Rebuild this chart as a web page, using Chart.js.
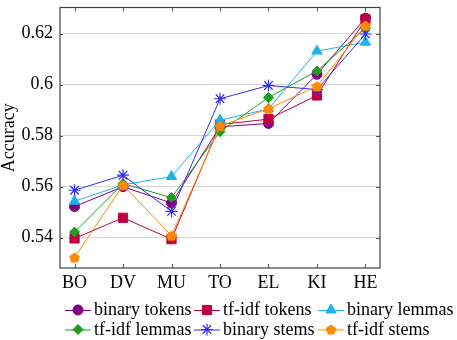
<!DOCTYPE html>
<html><head><meta charset="utf-8">
<script src="https://cdn.jsdelivr.net/npm/chart.js@4/dist/chart.umd.min.js"></script>
<style>html,body{margin:0;padding:0;background:#fff}#wrap{width:457px;height:340px;position:relative}
#probe{position:absolute;left:-1000px;top:0;font:18px 'Liberation Serif'}</style>
</head><body><div id="probe">binary tokens 0.62</div><div id="wrap"><canvas id="c" width="457" height="340"></canvas></div>
<script>
const categories = ['BO','DV','MU','TO','EL','KI','HE'];
const seriesNames = ['binary tokens','tf-idf tokens','binary lemmas','tf-idf lemmas','binary stems','tf-idf stems'];
const binaryTokens = [0.5522,0.5600,0.5536,0.5835,0.5848,0.6041,0.6261];
const tfidfTokens  = [0.5397,0.5478,0.5394,0.5844,0.5865,0.5958,0.6257];
const binaryLemmas = [0.5543,0.5607,0.5640,0.5861,0.5905,0.6132,0.6167];
const tfidfLemmas  = [0.5422,0.5612,0.5557,0.5816,0.5950,0.6054,0.6222];
const binaryStems  = [0.5586,0.5645,0.5503,0.5945,0.5997,0.5981,0.6199];
const tfidfStems   = [0.5322,0.5606,0.5408,0.5838,0.5906,0.5994,0.6232];
const yTicks = [0.54,0.56,0.58,0.6,0.62];

const FONT = "'Liberation Serif', 'DejaVu Serif', serif";
const colors = ['#800080','#bf0040','#1fb4e8','#1f9b1f','#2f2ff5','#ff8a00'];

function pentagon(color){
  const c = document.createElement('canvas');
  c.width = 13; c.height = 13;
  const g = c.getContext('2d');
  g.beginPath();
  for (let k=0;k<5;k++){
    const a = -Math.PI/2 + k*2*Math.PI/5;
    const px = 6.5 + 5.6*Math.cos(a), py = 7 + 5.6*Math.sin(a);
    if (k===0) g.moveTo(px,py); else g.lineTo(px,py);
  }
  g.closePath();
  g.fillStyle = color; g.fill();
  return c;
}

const allSeries = [binaryTokens, tfidfTokens, binaryLemmas, tfidfLemmas, binaryStems, tfidfStems];
const styles = [
  {pointStyle:'circle', radius:5},
  {pointStyle:'rect', radius:6.5},
  {pointStyle:'triangle', radius:6},
  {pointStyle:'rectRot', radius:5},
  {pointStyle:'star', radius:6},
  {pointStyle:pentagon(colors[5]), radius:6}
];

const datasets = allSeries.map((vals, i) => ({
  label: seriesNames[i],
  data: vals.map((v, j) => ({x: j, y: v})),
  borderColor: colors[i],
  backgroundColor: colors[i],
  borderWidth: 1,
  pointStyle: styles[i].pointStyle,
  pointRadius: styles[i].radius,
  pointBorderWidth: i === 4 ? 1.2 : 1,
  pointBorderColor: colors[i],
  pointBackgroundColor: colors[i],
  tension: 0,
  fill: false,
  order: 5 - i
}));

const framePlugin = {
  id: 'frame',
  afterDatasetsDraw(chart) {
    const {ctx, chartArea: a, scales} = chart;
    ctx.save();
    ctx.strokeStyle = '#555';
    ctx.lineWidth = 1;
    ctx.beginPath();
    categories.forEach((c, i) => {
      const x = Math.round(scales.x.getPixelForValue(i)) + 0.5;
      ctx.moveTo(x, a.bottom); ctx.lineTo(x, a.bottom - 4);
      ctx.moveTo(x, a.top); ctx.lineTo(x, a.top + 4);
    });
    yTicks.forEach(v => {
      const y = Math.round(scales.y.getPixelForValue(v)) + 0.5;
      ctx.moveTo(a.left, y); ctx.lineTo(a.left + 3, y);
      ctx.moveTo(a.right, y); ctx.lineTo(a.right - 4, y);
    });
    ctx.stroke();
    ctx.strokeStyle = '#404040';
    ctx.lineWidth = 1.2;
    ctx.strokeRect(a.left, a.top, a.right - a.left, a.bottom - a.top);
    ctx.restore();
  },
  afterDraw(chart) {
    const ctx = chart.ctx;
    const cols = [65, 194, 318];
    const markerRows = [310, 329.5];
    const textRows = [315, 334.5];
    ctx.save();
    ctx.font = '18px ' + FONT;
    ctx.textBaseline = 'alphabetic';
    ctx.textAlign = 'left';
    chart.data.datasets.forEach((ds, i) => {
      const col = i % 3, row = Math.floor(i / 3);
      const x0 = cols[col], ym = markerRows[row];
      ctx.strokeStyle = ds.borderColor;
      ctx.lineWidth = 1;
      ctx.beginPath();
      ctx.moveTo(x0, ym + 0.5); ctx.lineTo(x0 + 26, ym + 0.5);
      ctx.stroke();
      ctx.fillStyle = ds.pointBackgroundColor;
      ctx.strokeStyle = ds.pointBorderColor;
      ctx.lineWidth = ds.pointBorderWidth;
      if (Chart.helpers && Chart.helpers.drawPoint) {
        Chart.helpers.drawPoint(ctx, {pointStyle: ds.pointStyle, radius: ds.pointRadius, rotation: 0, borderWidth: ds.pointBorderWidth}, x0 + 13, ym);
      }
      ctx.fillStyle = '#000';
      ctx.fillText(ds.label, x0 + 29, textRows[row]);
    });
    ctx.restore();
  }
};

function zeroPad(s) { s.paddingTop = 0; s.paddingBottom = 0; s.paddingLeft = 0; s.paddingRight = 0; }

function draw() {
  new Chart(document.getElementById('c'), {
    type: 'line',
    data: { datasets },
    options: {
      responsive: false,
      animation: false,
      devicePixelRatio: 1,
      layout: { padding: { left: 0, right: 77, top: 4, bottom: 0 } },
      plugins: { legend: { display: false }, tooltip: { enabled: false } },
      scales: {
        x: {
          type: 'linear', min: -0.3, max: 6.3,
          afterBuildTicks: s => { s.ticks = categories.map((c, i) => ({value: i})); },
          afterFit: s => { s.height = 72; zeroPad(s); },
          ticks: { callback: v => categories[v], color: '#000', font: {family: FONT, size: 18}, padding: 4, autoSkip: false, maxRotation: 0 },
          grid: { display: false, drawTicks: false },
          border: { display: false }
        },
        y: {
          min: 0.5281, max: 0.6303,
          afterBuildTicks: s => { s.ticks = yTicks.map(v => ({value: v})); },
          afterFit: s => { s.width = 60; zeroPad(s); },
          ticks: { callback: v => String(Number(v.toFixed(2))), color: '#000', font: {family: FONT, size: 18}, padding: 7 },
          grid: { color: '#d6d6d6', drawTicks: false, lineWidth: 1 },
          border: { display: false },
          title: { display: true, text: 'Accuracy', color: '#000', font: {family: FONT, size: 18, lineHeight: 1}, padding: {top: 0, bottom: 0} }
        }
      }
    },
    plugins: [framePlugin]
  });
}
if (document.fonts && document.fonts.load) {
  document.fonts.load("18px 'Liberation Serif'").then(draw, draw);
} else { draw(); }
</script>
</body></html>
